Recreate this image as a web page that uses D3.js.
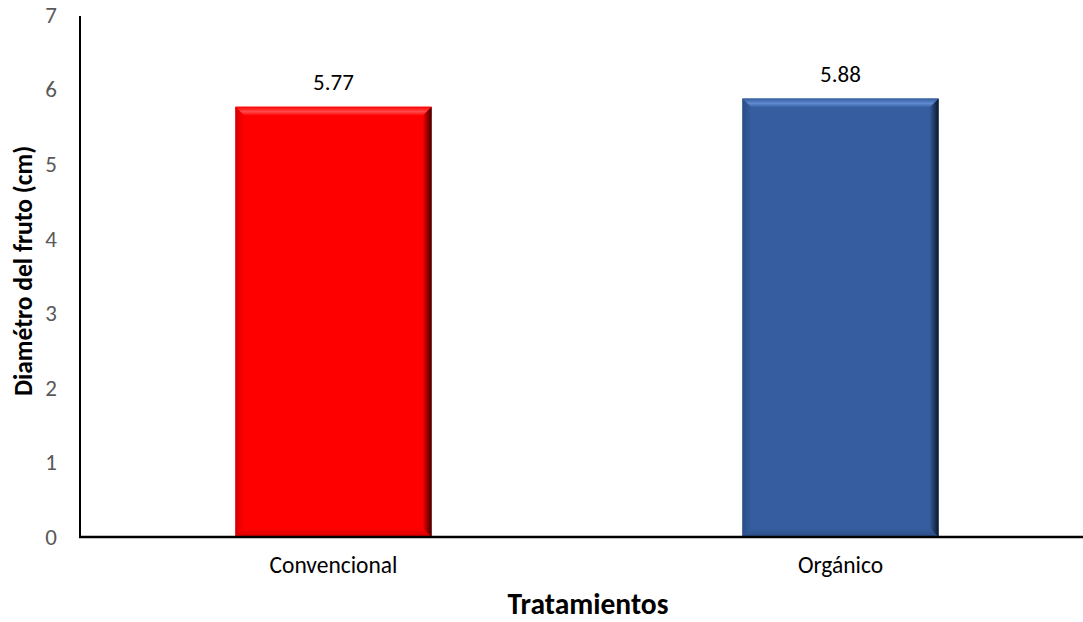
<!DOCTYPE html>
<html>
<head>
<meta charset="utf-8">
<script src="https://cdn.jsdelivr.net/npm/d3@7"></script>
<style>
  html, body { margin: 0; padding: 0; background: #fff; }
  svg { display: block; font-family: Calibri, Carlito, Lato, "Open Sans", sans-serif; }
</style>
</head>
<body>
<svg id="chart" width="1083" height="622"></svg>
<script>
// Fruit diameter by treatment
const categories = ["Convencional", "Orgánico"];
const values = [5.77, 5.88];
const valueLabels = ["5.77", "5.88"];
const yTicks = [0, 1, 2, 3, 4, 5, 6, 7];
const palette = [
  { base: "#ff0000", light: "#ff4a4a", dark: "#3a0000", bottom: "#d40000" },
  { base: "#355d9f", light: "#5f8ad0", dark: "#0b1628", bottom: "#2b4d86" }
];

const FONT = "Calibri, Carlito, Lato, sans-serif";
const svg = d3.select("#chart");
const W = 1083, H = 622;
const plotLeft = 80, plotTop = 15, baseY = 537;

const x = d3.scaleBand().domain(categories).range([plotLeft, 1094]).paddingInner(0.613).paddingOuter(0.3065);
const y = d3.scaleLinear().domain([0, 7]).range([baseY, plotTop]);

const defs = svg.append("defs");
palette.forEach((p, i) => {
  const gr = defs.append("linearGradient").attr("id", "right" + i).attr("x1", 0).attr("x2", 1).attr("y1", 0).attr("y2", 0);
  gr.append("stop").attr("offset", "0%").attr("stop-color", p.base);
  gr.append("stop").attr("offset", "100%").attr("stop-color", p.dark);
  const gt = defs.append("linearGradient").attr("id", "top" + i).attr("x1", 0).attr("x2", 0).attr("y1", 0).attr("y2", 1);
  gt.append("stop").attr("offset", "0%").attr("stop-color", p.base);
  gt.append("stop").attr("offset", "55%").attr("stop-color", p.light);
  gt.append("stop").attr("offset", "100%").attr("stop-color", p.base);
  const gb = defs.append("linearGradient").attr("id", "bot" + i).attr("x1", 0).attr("x2", 0).attr("y1", 0).attr("y2", 1);
  gb.append("stop").attr("offset", "0%").attr("stop-color", p.base);
  gb.append("stop").attr("offset", "100%").attr("stop-color", p.bottom);
  const gl = defs.append("linearGradient").attr("id", "left" + i).attr("x1", 0).attr("x2", 1).attr("y1", 0).attr("y2", 0);
  gl.append("stop").attr("offset", "0%").attr("stop-color", p.bottom);
  gl.append("stop").attr("offset", "100%").attr("stop-color", p.base);
});

// Bevelled bars
const bev = 9;
const bars = svg.append("g").selectAll("g").data(categories).join("g");
bars.each(function (c, i) {
  const g = d3.select(this);
  const x0 = x(c), x1 = x(c) + x.bandwidth();
  const y0 = y(values[i]), y1 = y(0);
  const p = palette[i];
  g.append("rect").attr("x", x0).attr("y", y0).attr("width", x1 - x0).attr("height", y1 - y0).attr("fill", p.base);
  // top bevel
  g.append("polygon").attr("fill", `url(#top${i})`)
    .attr("points", [[x0, y0], [x1, y0], [x1 - bev, y0 + bev], [x0 + bev, y0 + bev]].join(" "));
  // bottom bevel
  g.append("polygon").attr("fill", `url(#bot${i})`)
    .attr("points", [[x0, y1], [x1, y1], [x1 - bev, y1 - bev], [x0 + bev, y1 - bev]].join(" "));
  // left bevel
  g.append("polygon").attr("fill", `url(#left${i})`)
    .attr("points", [[x0, y0], [x0 + bev, y0 + bev], [x0 + bev, y1 - bev], [x0, y1]].join(" "));
  // right bevel
  g.append("polygon").attr("fill", `url(#right${i})`)
    .attr("points", [[x1, y0], [x1 - bev, y0 + bev], [x1 - bev, y1 - bev], [x1, y1]].join(" "));
});

// Value labels
svg.append("g").selectAll("text").data(categories).join("text")
  .attr("x", c => x(c) + x.bandwidth() / 2)
  .attr("y", (c, i) => y(values[i]) - 17)
  .attr("text-anchor", "middle")
  .attr("font-family", FONT)
  .attr("font-size", 23)
  .attr("fill", "#000")
  .text((c, i) => valueLabels[i]);

// Y axis
const yAxis = d3.axisLeft(y).tickValues(yTicks).tickSize(0).tickPadding(23).tickFormat(d3.format("d"));
const gy = svg.append("g").attr("transform", `translate(${plotLeft},0)`).call(yAxis);
gy.select(".domain").remove();
gy.selectAll("text").attr("font-size", 23).attr("fill", "#595959").attr("font-family", FONT);
svg.append("line").attr("x1", plotLeft).attr("x2", plotLeft).attr("y1", y(7) + 1).attr("y2", baseY + 1)
  .attr("stroke", "#000").attr("stroke-width", 2);

// X axis
const xAxis = d3.axisBottom(x).tickSize(0).tickPadding(19);
const gx = svg.append("g").attr("transform", `translate(0,${baseY})`).call(xAxis);
gx.select(".domain").remove();
gx.selectAll("text").attr("font-size", 23.5).attr("fill", "#000").attr("font-family", FONT);
svg.append("line").attr("x1", plotLeft - 1).attr("x2", W).attr("y1", baseY).attr("y2", baseY)
  .attr("stroke", "#000").attr("stroke-width", 2.5);

// Axis titles
svg.append("text").attr("x", 588).attr("y", 614).attr("text-anchor", "middle")
  .attr("font-family", FONT).attr("font-size", 29.5).attr("font-weight", "bold").text("Tratamientos");
svg.append("text").attr("transform", "translate(32,271) rotate(-90)").attr("text-anchor", "middle")
  .attr("font-family", FONT).attr("font-size", 25.5).attr("font-weight", "bold").text("Diamétro del fruto (cm)");
</script>
</body>
</html>
